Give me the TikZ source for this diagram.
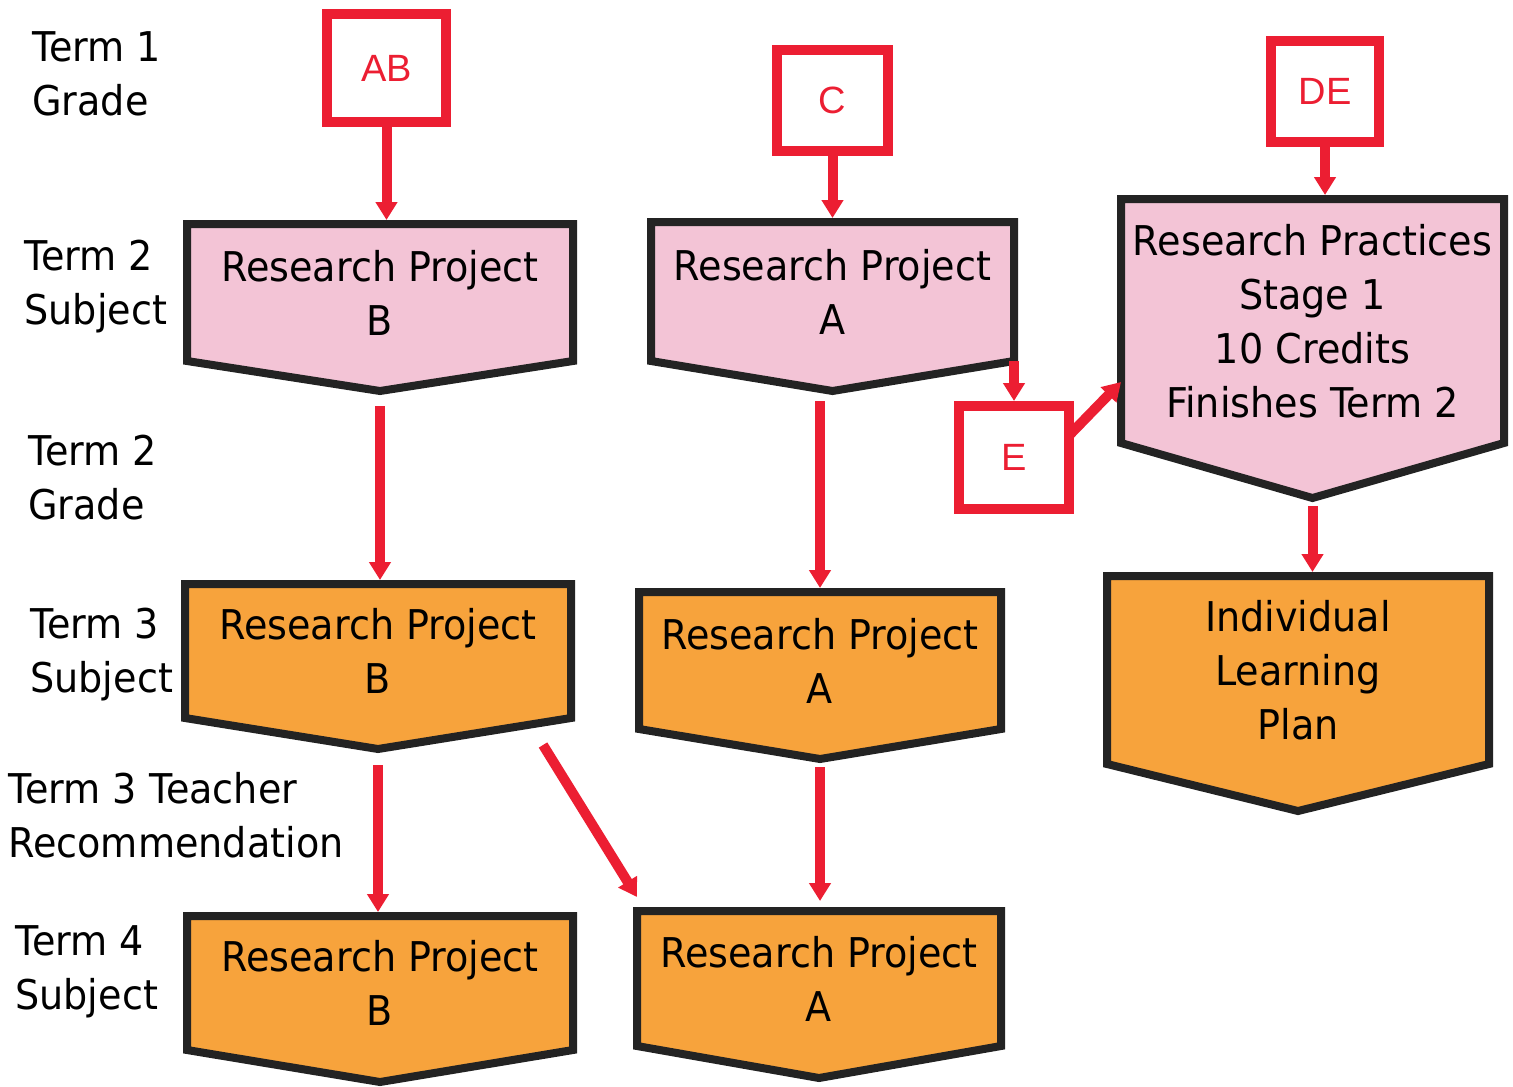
\documentclass[tikz,border=0pt]{standalone}
\usepackage{fontspec}
\setmainfont{DejaVu Sans}[FakeStretch=0.93]
\newfontfamily\gradefont{Liberation Sans}
\usepackage{xcolor}
\usepackage{tikz}
\usetikzlibrary{positioning,calc,backgrounds,arrows.meta}

\definecolor{pinkfill}{RGB}{243,196,214}
\definecolor{orangefill}{RGB}{247,163,60}
\definecolor{edgegray}{RGB}{35,35,35}
\definecolor{gradered}{RGB}{236,30,50}
\newcommand{\boxfont}{\fontsize{20.5}{27}\selectfont}

\begin{document}
\begin{tikzpicture}[x=0.5pt,y=-0.5pt,
    chev/.style={inner sep=0, outer sep=0, align=center, font=\boxfont},
    chevline/.style={draw=edgegray, line width=4pt},
    gradebox/.style={draw=gradered, line width=5pt, fill=white, text=gradered,
        inner sep=0, outer sep=0, font=\gradefont\fontsize{19}{22}\selectfont},
    lbl/.style={anchor=west, align=left, inner sep=0, font=\boxfont},
    arr/.style={draw=gradered, line width=5pt, shorten >=2pt,
        -{Triangle[length=9pt,width=10.5pt]}}]
\useasboundingbox (0,0) rectangle (1513,1086);

% term labels on the left
\node[lbl] (t1g) at (32,73.5) {Term 1\\Grade};
\node[lbl] (t2s) at (24,287) {Term 2\\Subject};
\node[lbl] (t2g) at (28,477.5) {Term 2\\Grade};
\node[lbl] (t3s) at (30,655) {Term 3\\Subject};
\node[lbl] (t3r) at (8,815.5) {Term 3 Teacher\\Recommendation};
\node[lbl] (t4s) at (15,972) {Term 4\\Subject};

% grade boxes
\node[gradebox, minimum width=59.5pt, minimum height=54pt] (AB) at (386.5,68) {AB};
\node[gradebox, minimum width=55.5pt, minimum height=50.5pt] (C) at (832.5,100.5) {C};
\node[gradebox, minimum width=54pt, minimum height=50.5pt] (DE) at (1325,91.5) {DE};
\node[gradebox, minimum width=55pt, minimum height=51.5pt] (E) at (1014,457.5) {E};

% subject boxes
\node[chev, minimum width=193pt, minimum height=68.5pt] (rpB2) at (380,292.5) {Research Project\\B};
\node[chev, minimum width=181.5pt, minimum height=69.5pt] (rpA2) at (832.5,291.5) {Research Project\\A};
\node[chev, minimum width=191.5pt, minimum height=122pt] (rpS1) at (1312.5,321) {Research Practices\\Stage 1\\10 Credits\\Finishes Term 2};
\node[chev, minimum width=193pt, minimum height=67pt] (rpB3) at (378,651) {Research Project\\B};
\node[chev, minimum width=181pt, minimum height=68.5pt] (rpA3) at (820,660.5) {Research Project\\A};
\node[chev, minimum width=191pt, minimum height=94pt] (ilp) at (1298,670) {Individual\\Learning\\Plan};
\node[chev, minimum width=193pt, minimum height=67pt] (rpB4) at (380,983) {Research Project\\B};
\node[chev, minimum width=182pt, minimum height=67.5pt] (rpA4) at (819,978.5) {Research Project\\A};

\begin{scope}[on background layer]
\foreach \n/\d/\c in {rpB2/30/pinkfill, rpA2/30/pinkfill, rpS1/55/pinkfill,
    rpB3/31/orangefill, rpA3/30/orangefill, ilp/47/orangefill,
    rpB4/32/orangefill, rpA4/32/orangefill}{
  \draw[chevline, fill=\c] (\n.north west) -- (\n.north east) -- (\n.south east)
    -- ($(\n.south)+(0,\d)$) coordinate (\n-tip) -- (\n.south west) -- cycle;
}
\end{scope}

% arrows
\draw[arr] (AB.south) -- (AB.south |- rpB2.north);
\draw[arr] (C.south) -- (C.south |- rpA2.north);
\draw[arr] (DE.south) -- (DE.south |- rpS1.north);
\draw[arr, shorten <=7.5pt] (rpB2-tip) -- (rpB2-tip |- rpB3.north);
\draw[arr, shorten <=5pt] (rpA3.north |- rpA2-tip) -- (rpA3.north);
\draw[arr, shorten <=4pt] (rpS1-tip) -- (rpS1-tip |- ilp.north);
\draw[arr, shorten <=8pt] (rpB3-tip) -- (rpB3-tip |- rpB4.north);
\draw[arr, shorten >=0pt] ([xshift=-14pt,yshift=-13.5pt]rpB3.south east) -- ([yshift=7pt]rpA4.north west);
\draw[arr, shorten <=4pt, shorten >=5pt] (rpA3-tip) -- (rpA3-tip |- rpA4.north);
\draw[arr, shorten >=2.5pt] (rpA2.south east) -- (rpA2.south east |- E.north);
\draw[arr, shorten >=0pt] ([yshift=11pt]E.east) -- ([yshift=-30.5pt]rpS1.west);
\end{tikzpicture}
\end{document}
